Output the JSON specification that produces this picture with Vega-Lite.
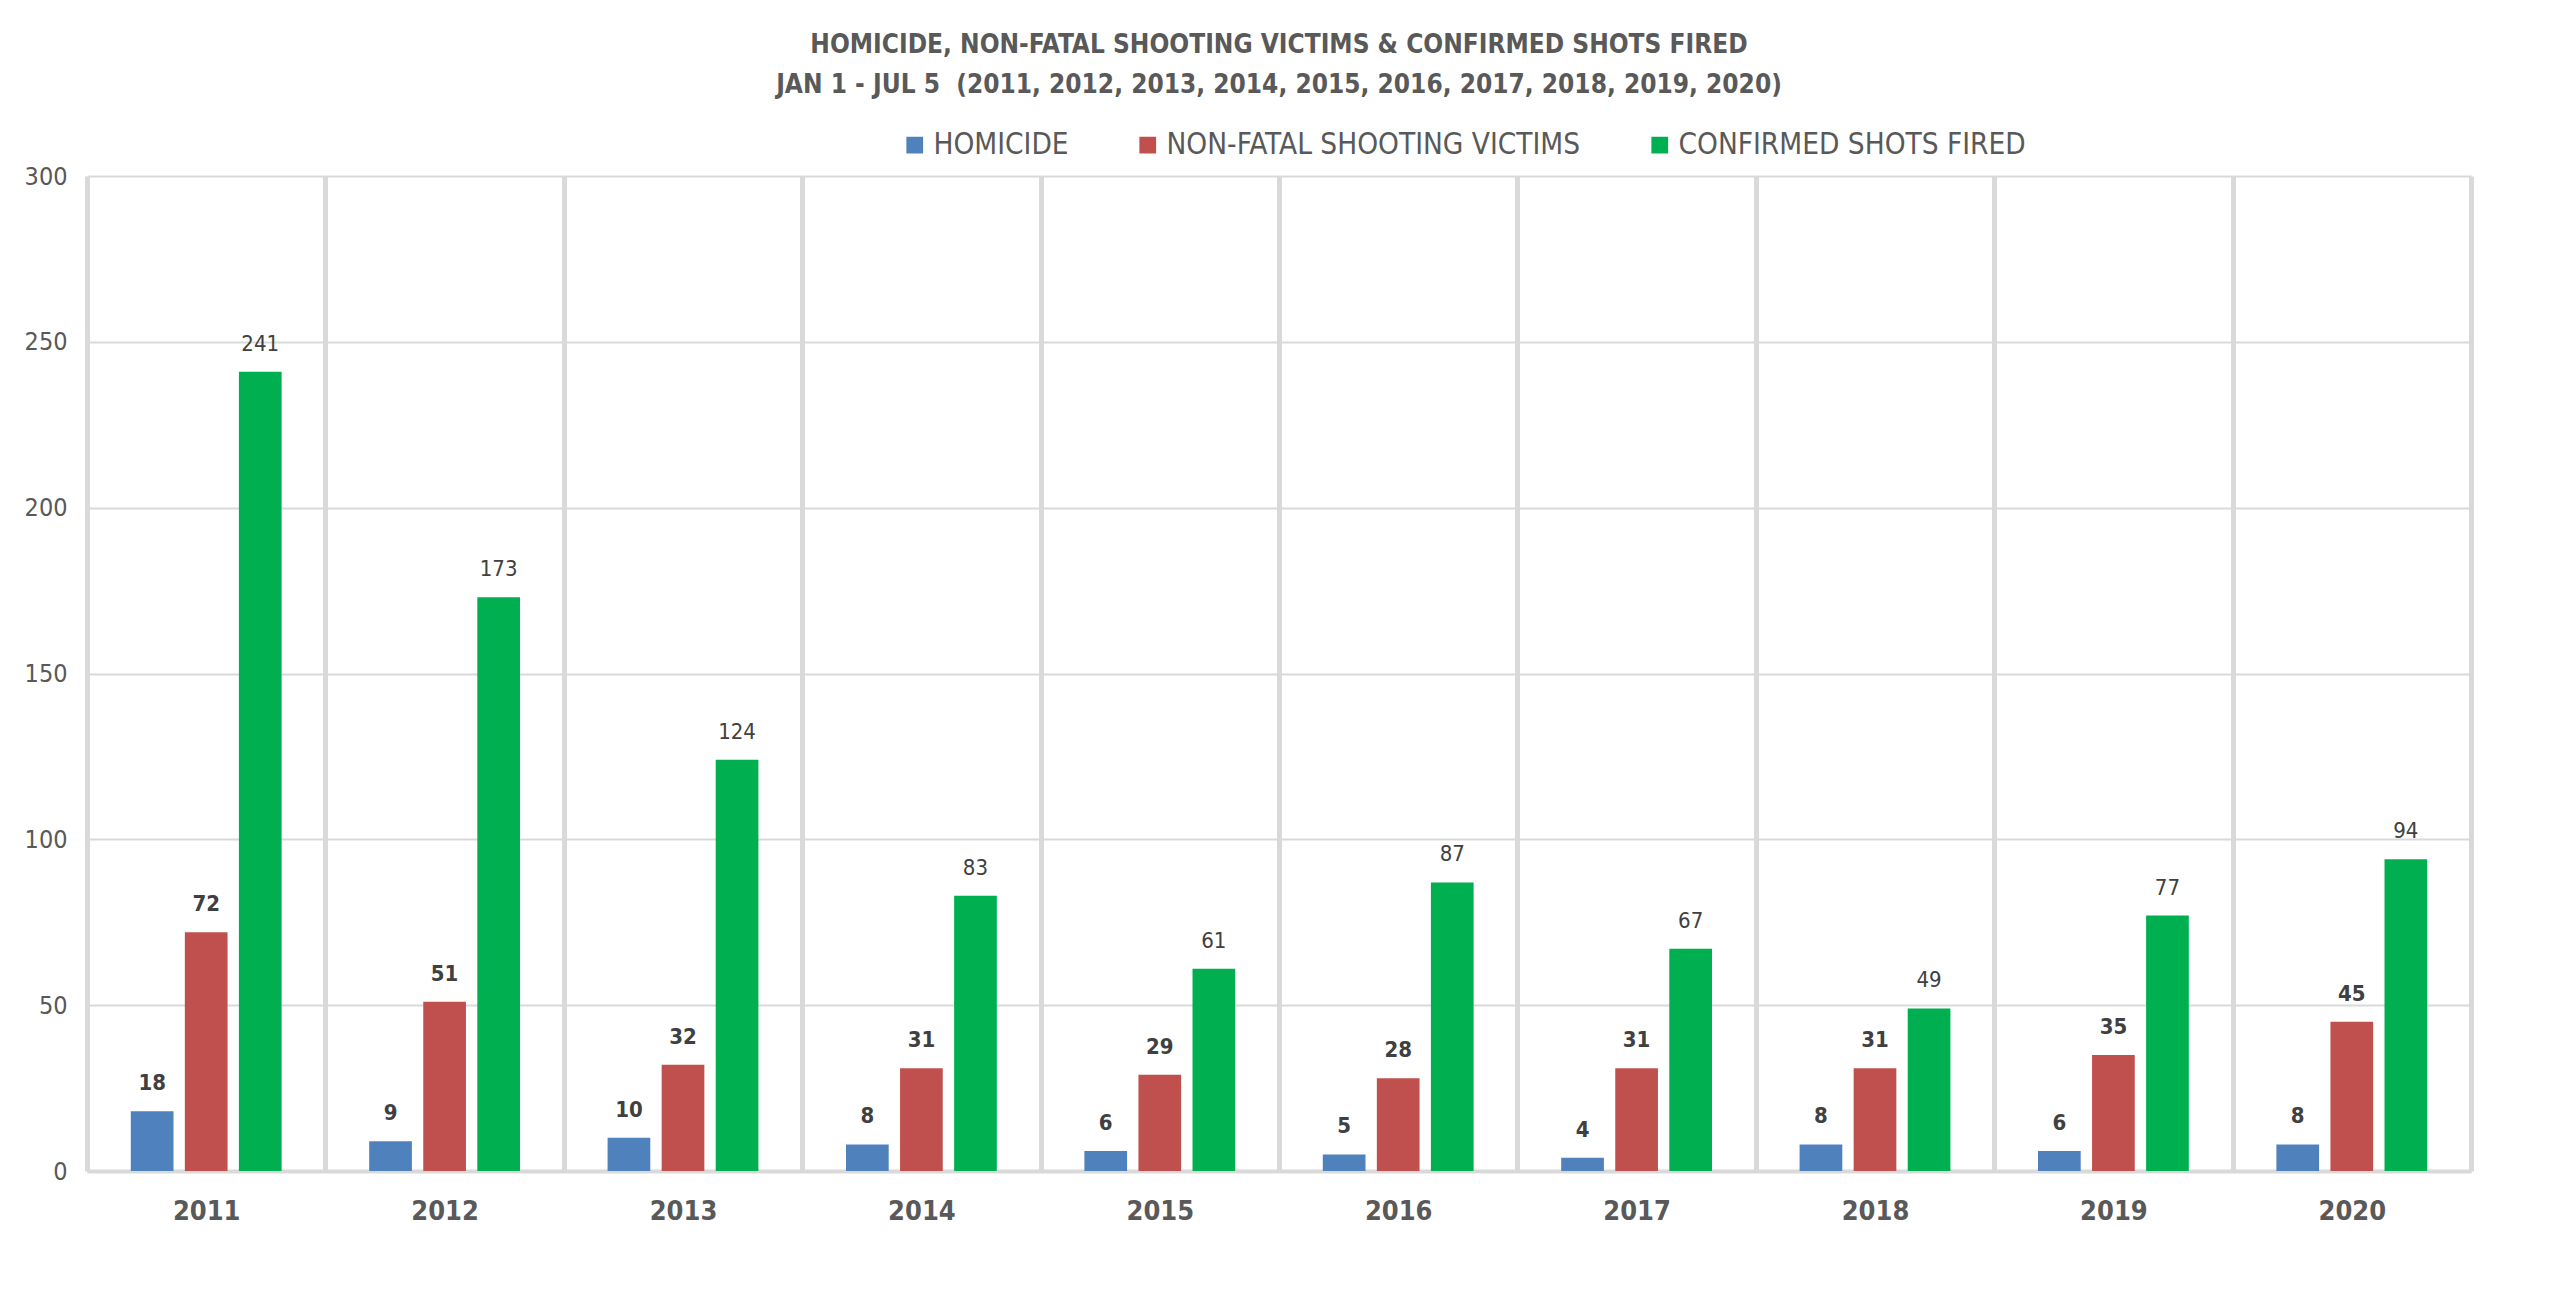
{
  "$schema": "https://vega.github.io/schema/vega-lite/v6.json",
  "width": 2384,
  "height": 995,
  "autosize": {"type": "none"},
  "padding": {"left": 87, "top": 176, "right": 98, "bottom": 145},
  "background": "white",
  "title": {
    "text": ["HOMICIDE, NON-FATAL SHOOTING VICTIMS & CONFIRMED SHOTS FIRED", "JAN 1 - JUL 5 \u00a0(2011, 2012, 2013, 2014, 2015, 2016, 2017, 2018, 2019, 2020)"],
    "font": "DejaVu Sans Condensed, sans-serif",
    "fontSize": 26,
    "fontWeight": "bold",
    "color": "#595959",
    "lineHeight": 40,
    "offset": 32,
    "anchor": "middle"
  },
  "data": {
    "values": [
      {"year": "2011", "series": "HOMICIDE", "value": 18},
      {"year": "2011", "series": "NON-FATAL SHOOTING VICTIMS", "value": 72},
      {"year": "2011", "series": "CONFIRMED SHOTS FIRED", "value": 241},
      {"year": "2012", "series": "HOMICIDE", "value": 9},
      {"year": "2012", "series": "NON-FATAL SHOOTING VICTIMS", "value": 51},
      {"year": "2012", "series": "CONFIRMED SHOTS FIRED", "value": 173},
      {"year": "2013", "series": "HOMICIDE", "value": 10},
      {"year": "2013", "series": "NON-FATAL SHOOTING VICTIMS", "value": 32},
      {"year": "2013", "series": "CONFIRMED SHOTS FIRED", "value": 124},
      {"year": "2014", "series": "HOMICIDE", "value": 8},
      {"year": "2014", "series": "NON-FATAL SHOOTING VICTIMS", "value": 31},
      {"year": "2014", "series": "CONFIRMED SHOTS FIRED", "value": 83},
      {"year": "2015", "series": "HOMICIDE", "value": 6},
      {"year": "2015", "series": "NON-FATAL SHOOTING VICTIMS", "value": 29},
      {"year": "2015", "series": "CONFIRMED SHOTS FIRED", "value": 61},
      {"year": "2016", "series": "HOMICIDE", "value": 5},
      {"year": "2016", "series": "NON-FATAL SHOOTING VICTIMS", "value": 28},
      {"year": "2016", "series": "CONFIRMED SHOTS FIRED", "value": 87},
      {"year": "2017", "series": "HOMICIDE", "value": 4},
      {"year": "2017", "series": "NON-FATAL SHOOTING VICTIMS", "value": 31},
      {"year": "2017", "series": "CONFIRMED SHOTS FIRED", "value": 67},
      {"year": "2018", "series": "HOMICIDE", "value": 8},
      {"year": "2018", "series": "NON-FATAL SHOOTING VICTIMS", "value": 31},
      {"year": "2018", "series": "CONFIRMED SHOTS FIRED", "value": 49},
      {"year": "2019", "series": "HOMICIDE", "value": 6},
      {"year": "2019", "series": "NON-FATAL SHOOTING VICTIMS", "value": 35},
      {"year": "2019", "series": "CONFIRMED SHOTS FIRED", "value": 77},
      {"year": "2020", "series": "HOMICIDE", "value": 8},
      {"year": "2020", "series": "NON-FATAL SHOOTING VICTIMS", "value": 45},
      {"year": "2020", "series": "CONFIRMED SHOTS FIRED", "value": 94}
    ]
  },
  "encoding": {
    "x": {
      "field": "year",
      "type": "nominal",
      "title": null,
      "scale": {"paddingInner": 0, "paddingOuter": 0},
      "axis": {
        "labelAngle": 0,
        "labelFont": "DejaVu Sans Condensed, sans-serif",
        "labelFontSize": 27,
        "labelFontWeight": "bold",
        "labelColor": "#595959",
        "labelPadding": 27,
        "ticks": false,
        "grid": true,
        "gridColor": "#D9D9D9",
        "gridWidth": 5,
        "tickBand": "extent",
        "domainColor": "#D9D9D9",
        "domainWidth": 4
      }
    },
    "xOffset": {
      "field": "series",
      "type": "nominal",
      "sort": ["HOMICIDE", "NON-FATAL SHOOTING VICTIMS", "CONFIRMED SHOTS FIRED"],
      "scale": {"paddingInner": 0.21, "paddingOuter": 0.81}
    },
    "y": {
      "field": "value",
      "type": "quantitative",
      "title": null,
      "scale": {"domain": [0, 300]},
      "axis": {
        "values": [0, 50, 100, 150, 200, 250, 300],
        "labelFont": "DejaVu Sans Condensed, sans-serif",
        "labelFontSize": 25,
        "labelColor": "#595959",
        "labelPadding": 20,
        "ticks": false,
        "domain": false,
        "gridColor": "#D9D9D9",
        "gridWidth": 2
      }
    }
  },
  "layer": [
    {
      "mark": {"type": "bar"},
      "encoding": {
        "color": {
          "field": "series",
          "type": "nominal",
          "sort": ["HOMICIDE", "NON-FATAL SHOOTING VICTIMS", "CONFIRMED SHOTS FIRED"],
          "scale": {
            "domain": ["HOMICIDE", "NON-FATAL SHOOTING VICTIMS", "CONFIRMED SHOTS FIRED"],
            "range": ["#4F81BD", "#C0504D", "#00B050"]
          },
          "legend": {
            "title": null,
            "orient": "none",
            "direction": "horizontal",
            "legendX": 813,
            "legendY": -46,
            "symbolType": "square",
            "symbolSize": 280,
            "symbolStrokeWidth": 0,
            "labelFont": "DejaVu Sans Condensed, sans-serif",
            "labelFontSize": 29.5,
            "labelColor": "#595959",
            "labelLimit": 700,
            "columnPadding": 64
          }
        }
      }
    },
    {
      "transform": [{"filter": "datum.series !== 'CONFIRMED SHOTS FIRED'"}],
      "mark": {
        "type": "text",
        "dy": -28,
        "font": "DejaVu Sans Condensed, sans-serif",
        "fontSize": 22,
        "fontWeight": "bold",
        "color": "#404040"
      },
      "encoding": {"text": {"field": "value", "type": "quantitative"}}
    },
    {
      "transform": [{"filter": "datum.series === 'CONFIRMED SHOTS FIRED'"}],
      "mark": {
        "type": "text",
        "dy": -28,
        "font": "DejaVu Sans Condensed, sans-serif",
        "fontSize": 22,
        "color": "#404040"
      },
      "encoding": {"text": {"field": "value", "type": "quantitative"}}
    }
  ],
  "config": {
    "view": {"stroke": null}
  }
}
